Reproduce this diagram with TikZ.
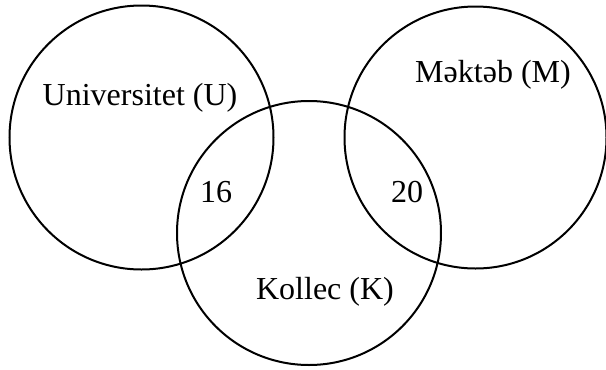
\documentclass[tikz,border=0pt]{standalone}
\usepackage{fontspec}
\setmainfont{Liberation Serif}
\begin{document}
\begin{tikzpicture}[x=1pt,y=-1pt,
  setc/.style={draw=black,line width=2pt,circle,minimum size=264pt,inner sep=0pt},
  lab/.style={font=\fontsize{32}{32}\selectfont,inner sep=0pt}]
\useasboundingbox (0,0) rectangle (606,370);
\node[setc] (U) at (141.5,137.5) {};
\node[setc,minimum size=262pt] (M) at (475.5,137.5) {};
\node[setc] (K) at (309,233) {};
\node[lab] (tU) at (140,98) {Universitet (U)};
\node[lab] (tM) at (493,75) {Məktəb (M)};
\node[lab] (tK) at (325,292) {Kollec (K)};
\node[lab] (n16) at (216,192) {16};
\node[lab] (n20) at (407,192) {20};
\end{tikzpicture}
\end{document}
